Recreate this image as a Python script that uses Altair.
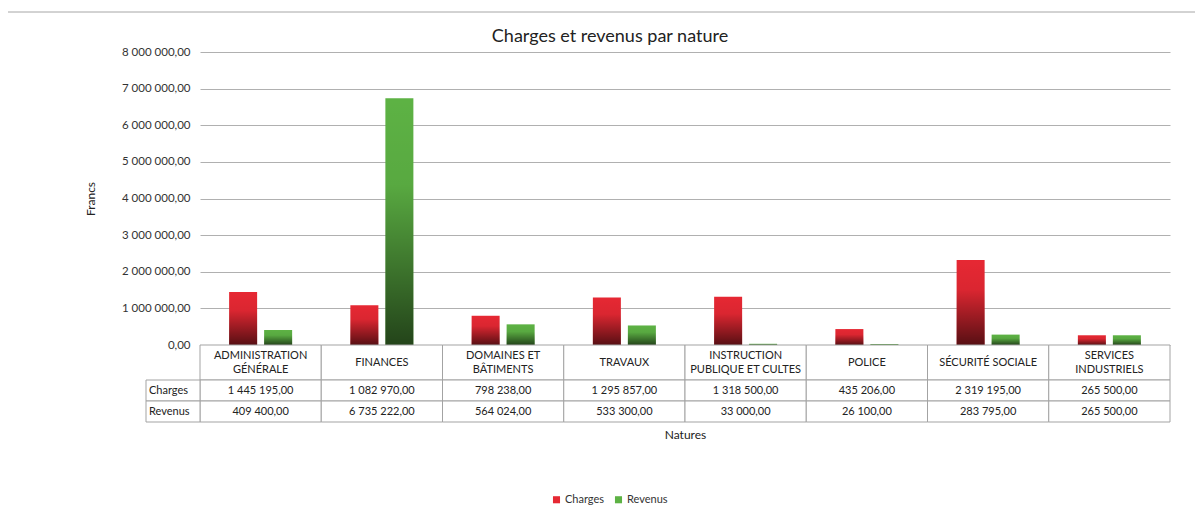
import altair as alt
import pandas as pd

categories = [
    "ADMINISTRATION\nGÉNÉRALE",
    "FINANCES",
    "DOMAINES ET\nBÂTIMENTS",
    "TRAVAUX",
    "INSTRUCTION\nPUBLIQUE ET CULTES",
    "POLICE",
    "SÉCURITÉ SOCIALE",
    "SERVICES\nINDUSTRIELS",
]
series = ["Charges", "Revenus"]
charges = [1445195, 1082970, 798238, 1295857, 1318500, 435206, 2319195, 265500]
revenus = [409400, 6735222, 564024, 533300, 33000, 26100, 283795, 265500]
y_ticks = [0, 1000000, 2000000, 3000000, 4000000, 5000000, 6000000, 7000000, 8000000]
series_colors = ["#e62833", "#5db244"]
chart_title = "Charges et revenus par nature"

FONT = "Lato"
W, H = 970, 293
GRID = "#b0b0b0"
BORDER = "#a3a3a3"


def fr(v):
    return f"{v:,.2f}".replace(",", " ").replace(".", ",")


rows = []
for c, a, b in zip(categories, charges, revenus):
    rows.append({"cat": c, "series": "Charges", "value": a, "label": fr(a)})
    rows.append({"cat": c, "series": "Revenus", "value": b, "label": fr(b)})
df = pd.DataFrame(rows)
dcat = pd.DataFrame({"cat": categories})
dser = pd.DataFrame({"series": series})

# header lines split for vertical centring
single, first, second = [], [], []
for c in categories:
    parts = c.split("\n")
    if len(parts) == 1:
        single.append({"cat": c, "line": parts[0]})
    else:
        first.append({"cat": c, "line": parts[0]})
        second.append({"cat": c, "line": parts[1]})

X = alt.X(
    "cat:N",
    sort=categories,
    scale=alt.Scale(paddingInner=0, paddingOuter=0),
    axis=alt.Axis(
        title="Natures", labels=False, ticks=False, domain=False, grid=False,
        titlePadding=84, titleFontSize=12, titleFontWeight="normal",
        titleColor="#222", titleFont=FONT,
    ),
)
XO = alt.XOffset("series:N", sort=series,
                 scale=alt.Scale(domain=series, paddingInner=0.2, paddingOuter=0.832))
Y = alt.Y(
    "value:Q",
    scale=alt.Scale(domain=[0, 8000000], nice=False),
    axis=alt.Axis(
        title="Francs", values=y_ticks, grid=True, gridColor=GRID, domain=False,
        ticks=False, labelPadding=10, labelFontSize=11.5, labelColor="#333",
        labelFont=FONT, titleFont=FONT, titleFontSize=12, titleFontWeight="normal",
        titleColor="#222", titlePadding=24,
        labelExpr="replace(replace(format(datum.value, ',.2f'), regexp(',', 'g'), ' '), '.', ',')",
    ),
)

bars = alt.Chart(df).mark_bar().encode(
    x=X, xOffset=XO, y=Y,
    color=alt.Color(
        "series:N",
        scale=alt.Scale(domain=series, range=series_colors),
        legend=alt.Legend(
            orient="none", legendX=351, legendY=442, direction="horizontal",
            title=None, symbolType="square", symbolSize=50, symbolStrokeWidth=0,
            labelFontSize=11, labelFont=FONT, labelColor="#333", columnPadding=8,
            labelOffset=3,
        ),
    ),
)

shade = alt.Chart(df).mark_bar(
    color=alt.Gradient(
        gradient="linear",
        stops=[
            alt.GradientStop(offset=0, color="rgba(0,0,0,0)"),
            alt.GradientStop(offset=0.35, color="rgba(0,0,0,0.05)"),
            alt.GradientStop(offset=1, color="rgba(0,0,0,0.62)"),
        ],
        x1=0, x2=0, y1=0, y2=1,
    )
).encode(x=X, xOffset=XO, y=Y)

# data table: header row
hdr_cells = alt.Chart(dcat).mark_rect(fill="white", stroke=BORDER, strokeWidth=1).encode(
    x=X, y=alt.value(H), y2=alt.value(H + 35)
)
hdr_layers = []
for recs, yy in [(single, H + 17.5), (first, H + 10.5), (second, H + 24.5)]:
    hdr_layers.append(
        alt.Chart(pd.DataFrame(recs)).mark_text(
            fontSize=11, font=FONT, color="#222", baseline="middle"
        ).encode(x=X, y=alt.value(yy), text="line:N")
    )

row_top = {"Charges": H + 35, "Revenus": H + 56}
cells = []
for s in series:
    sub = df[df.series == s]
    top = row_top[s]
    cells.append(
        alt.Chart(sub).mark_rect(fill="white", stroke=BORDER, strokeWidth=1).encode(
            x=X, y=alt.value(top), y2=alt.value(top + 21)
        )
    )
    cells.append(
        alt.Chart(sub).mark_text(fontSize=11, font=FONT, color="#222", baseline="middle").encode(
            x=X, y=alt.value(top + 10.5), text="label:N"
        )
    )
    one = dser[dser.series == s]
    cells.append(
        alt.Chart(one).mark_rect(fill="white", stroke=BORDER, strokeWidth=1).encode(
            x=alt.value(-54), x2=alt.value(0), y=alt.value(top), y2=alt.value(top + 21)
        )
    )
    cells.append(
        alt.Chart(one).mark_text(fontSize=11, font=FONT, color="#222", align="left",
                                 baseline="middle").encode(
            x=alt.value(-51), y=alt.value(top + 10.5), text="series:N"
        )
    )

title_mark = alt.Chart(pd.DataFrame({"t": [chart_title]})).mark_text(
    fontSize=18, font=FONT, color="#222", baseline="middle"
).encode(x=alt.value(410), y=alt.value(-15), text="t:N")

frame_top = alt.Chart(dser).mark_rule(color="#c4c4c4").encode(
    x=alt.value(-193), x2=alt.value(1003), y=alt.value(-40)
)
frame_left = alt.Chart(dser).mark_rule(color="#c4c4c4").encode(
    x=alt.value(-193), y=alt.value(-40), y2=alt.value(463)
)

chart = alt.layer(
    bars, shade, hdr_cells, *hdr_layers, *cells, title_mark, frame_top, frame_left
).properties(
    width=W,
    height=H,
    padding={"left": 192, "top": 44, "right": 25, "bottom": 162},
    autosize=alt.AutoSizeParams(type="none"),
).configure(font=FONT).configure_view(stroke=None)

chart.save("out.html", embed_options={"renderer": "svg", "actions": False})
